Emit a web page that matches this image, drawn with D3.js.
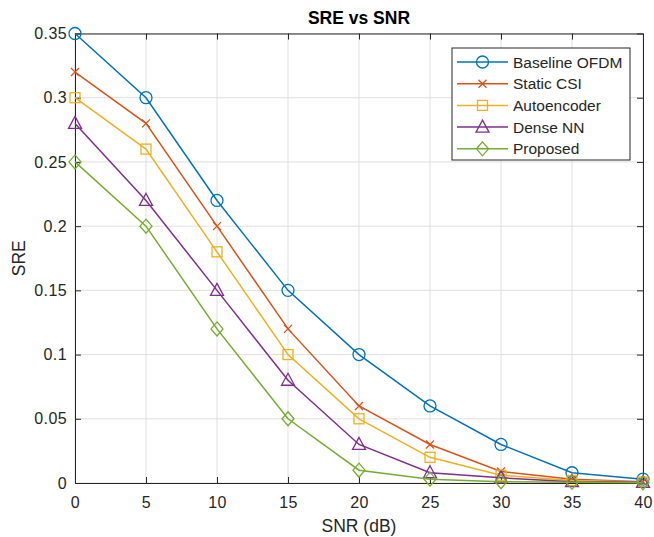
<!DOCTYPE html>
<html>
<head>
<meta charset="utf-8">
<script src="https://cdn.jsdelivr.net/npm/d3@7"></script>
<style>
  body { margin: 0; background: #fff; }
  svg text { font-family: "Liberation Sans", Arial, sans-serif; fill: #262626; }
</style>
</head>
<body>
<div id="chart"></div>
<script>
// chart data
let snr = [0, 5, 10, 15, 20, 25, 30, 35, 40];
let seriesNames = ["Baseline OFDM", "Static CSI", "Autoencoder", "Dense NN", "Proposed"];
let baseline = [0.35, 0.30, 0.22, 0.15, 0.10, 0.06, 0.03, 0.008, 0.003];
let staticCsi = [0.32, 0.28, 0.20, 0.12, 0.06, 0.03, 0.009, 0.003, 0.001];
let autoencoder = [0.30, 0.26, 0.18, 0.10, 0.05, 0.02, 0.006, 0.002, 0.0008];
let denseNN = [0.28, 0.22, 0.15, 0.08, 0.03, 0.008, 0.004, 0.001, 0.0005];
let proposed = [0.25, 0.20, 0.12, 0.05, 0.01, 0.003, 0.001, 0.0005, 0.0002];
let xTicks = [0, 5, 10, 15, 20, 25, 30, 35, 40];
let yTicks = [0, 0.05, 0.1, 0.15, 0.2, 0.25, 0.3, 0.35];

let allSeries = [baseline, staticCsi, autoencoder, denseNN, proposed];
let colors = ["#0072BD", "#D95319", "#EDB120", "#7E2F8E", "#77AC30"];
let markers = ["circle", "x", "square", "triangle", "diamond"];

let svgWidth = 654;
let svgHeight = 537;
let margin = { top: 33.5, right: 11, bottom: 54, left: 75 };
let width = svgWidth - margin.left - margin.right;
let height = svgHeight - margin.top - margin.bottom;

let svg = d3.select("#chart")
  .append("svg")
  .attr("width", svgWidth)
  .attr("height", svgHeight);

let chartGroup = svg.append("g")
  .attr("transform", `translate(${margin.left}, ${margin.top})`);

let xScale = d3.scaleLinear().domain([0, 40]).range([0, width]);
let yScale = d3.scaleLinear().domain([0, 0.35]).range([height, 0]);

// grid lines
chartGroup.append("g")
  .selectAll("line")
  .data(xTicks)
  .enter()
  .append("line")
  .attr("x1", d => xScale(d)).attr("x2", d => xScale(d))
  .attr("y1", 0).attr("y2", height)
  .attr("stroke", "#dfdfdf").attr("stroke-width", 1);

chartGroup.append("g")
  .selectAll("line")
  .data(yTicks)
  .enter()
  .append("line")
  .attr("x1", 0).attr("x2", width)
  .attr("y1", d => yScale(d)).attr("y2", d => yScale(d))
  .attr("stroke", "#dfdfdf").attr("stroke-width", 1);

// axes (MATLAB-style box with inward ticks)
let bottomAxis = d3.axisBottom(xScale).tickValues(xTicks).tickSizeInner(-6).tickSizeOuter(0).tickPadding(14);
let leftAxis = d3.axisLeft(yScale).tickValues(yTicks).tickSizeInner(-6).tickSizeOuter(0).tickPadding(8)
  .tickFormat(d => d3.format("")(+d.toFixed(2)));
let topAxis = d3.axisTop(xScale).tickValues(xTicks).tickSizeInner(-6).tickSizeOuter(0).tickFormat("");
let rightAxis = d3.axisRight(yScale).tickValues(yTicks).tickSizeInner(-6).tickSizeOuter(0).tickFormat("");

function styleAxis(g) {
  g.selectAll("path").attr("stroke", "#262626");
  g.selectAll("line").attr("stroke", "#262626");
  g.selectAll("text").style("font-size", "16px").style("letter-spacing", "0.4px").attr("fill", "#262626")
    .style("font-family", "'Liberation Sans', Arial, sans-serif");
}

chartGroup.append("g").attr("transform", `translate(0, ${height})`).call(bottomAxis).call(styleAxis);
chartGroup.append("g").call(leftAxis).call(styleAxis);
chartGroup.append("g").call(topAxis).call(styleAxis);
chartGroup.append("g").attr("transform", `translate(${width}, 0)`).call(rightAxis).call(styleAxis);

// marker drawing
function drawMarker(g, type, color) {
  if (type === "circle") {
    g.append("circle").attr("r", 6).attr("fill", "none").attr("stroke", color).attr("stroke-width", 1.3);
  } else if (type === "x") {
    g.append("path").attr("d", "M-4,-4L4,4M-4,4L4,-4").attr("stroke", color).attr("stroke-width", 1.3).attr("fill", "none");
  } else if (type === "square") {
    g.append("rect").attr("x", -5).attr("y", -5).attr("width", 10).attr("height", 10)
      .attr("fill", "none").attr("stroke", color).attr("stroke-width", 1.3);
  } else if (type === "triangle") {
    g.append("path").attr("d", "M0,-7L6.5,5L-6.5,5Z").attr("fill", "none").attr("stroke", color).attr("stroke-width", 1.3);
  } else if (type === "diamond") {
    g.append("path").attr("d", "M0,-7L6,0L0,7L-6,0Z").attr("fill", "none").attr("stroke", color).attr("stroke-width", 1.3);
  }
}

let line = d3.line()
  .x((d, i) => xScale(snr[i]))
  .y(d => yScale(d));

allSeries.forEach(function (values, s) {
  chartGroup.append("path")
    .datum(values)
    .attr("d", line)
    .attr("fill", "none")
    .attr("stroke", colors[s])
    .attr("stroke-width", 1.5);

  chartGroup.selectAll(null)
    .data(values)
    .enter()
    .append("g")
    .attr("transform", (d, i) => `translate(${xScale(snr[i])}, ${yScale(d)})`)
    .each(function () { drawMarker(d3.select(this), markers[s], colors[s]); });
});

// title and labels
svg.append("text")
  .attr("x", margin.left + width / 2)
  .attr("y", 24)
  .attr("text-anchor", "middle")
  .style("font-size", "17.5px")
  .style("font-weight", "bold")
  .style("fill", "#000")
  .text("SRE vs SNR");

svg.append("text")
  .attr("x", margin.left + width / 2)
  .attr("y", 532)
  .attr("text-anchor", "middle")
  .style("font-size", "17.5px")
  .text("SNR (dB)");

svg.append("text")
  .attr("transform", `translate(25, ${margin.top + height / 2}) rotate(-90)`)
  .attr("text-anchor", "middle")
  .style("font-size", "17.5px")
  .text("SRE");

// legend
let legend = svg.append("g").attr("transform", "translate(452, 48)");
legend.append("rect")
  .attr("width", 178).attr("height", 112)
  .attr("fill", "#fff").attr("stroke", "#262626").attr("stroke-width", 1);

seriesNames.forEach(function (name, s) {
  let row = legend.append("g").attr("transform", `translate(0, ${14 + s * 21.7})`);
  row.append("line").attr("x1", 5).attr("x2", 56).attr("y1", 0).attr("y2", 0)
    .attr("stroke", colors[s]).attr("stroke-width", 1.5);
  drawMarker(row.append("g").attr("transform", "translate(30.5, 0)"), markers[s], colors[s]);
  row.append("text").attr("x", 61).attr("y", 5.5).style("font-size", "15.5px").text(name);
});
</script>
</body>
</html>
